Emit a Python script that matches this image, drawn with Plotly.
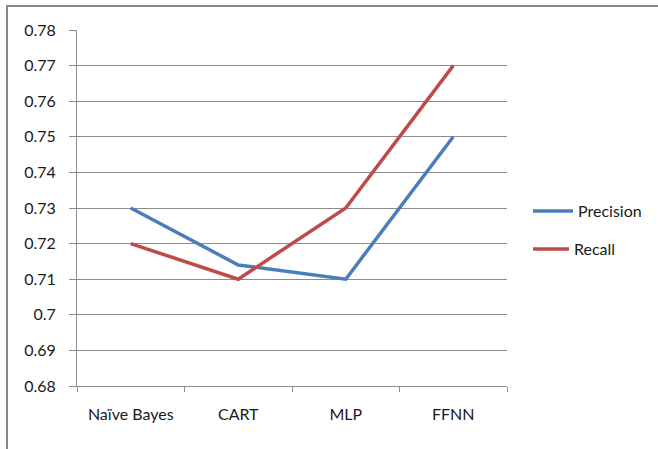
import plotly.graph_objects as go

# Classifier comparison: precision and recall per model
models = ["Naïve Bayes", "CART", "MLP", "FFNN"]
precision = [0.73, 0.714, 0.71, 0.75]
recall = [0.72, 0.71, 0.73, 0.77]
y_ticks = [0.68, 0.69, 0.70, 0.71, 0.72, 0.73, 0.74, 0.75, 0.76, 0.77, 0.78]
y_tick_text = ["0.68", "0.69", "0.7", "0.71", "0.72", "0.73", "0.74", "0.75", "0.76", "0.77", "0.78"]

BLUE = "#4A7EBB"
RED = "#BE4B48"
GRID = "#8C8C8C"
FONT = "Lato, Carlito, Calibri, sans-serif"

fig = go.Figure()
fig.add_trace(go.Scatter(x=models, y=precision, mode="lines", name="Precision",
                         line=dict(color=BLUE, width=3.5), legend="legend"))
fig.add_trace(go.Scatter(x=models, y=recall, mode="lines", name="Recall",
                         line=dict(color=RED, width=3.5), legend="legend2"))

W, H = 658, 449
L, R, T, B = 77, 151, 30, 63
pw, ph = W - L - R, H - T - B


def px_x(px):
    return (px - L) / pw


def px_y(py):
    return (H - B - py) / ph


fig.update_layout(
    width=W, height=H,
    margin=dict(l=L, r=R, t=T, b=B, autoexpand=False),
    paper_bgcolor="white", plot_bgcolor="white",
    font=dict(family=FONT, size=16, color="#1a1a1a"),
    showlegend=True,
    legend=dict(x=px_x(528), y=px_y(211), xanchor="left", yanchor="middle",
                itemwidth=40, bgcolor="rgba(0,0,0,0)", font=dict(size=16)),
    legend2=dict(x=px_x(528), y=px_y(249), xanchor="left", yanchor="middle",
                 itemwidth=36, bgcolor="rgba(0,0,0,0)", font=dict(size=16)),
    xaxis=dict(type="category", range=[-0.5, 3.5], tickson="boundaries",
               ticks="outside", ticklen=5, tickcolor=GRID, showgrid=False,
               showline=True, linecolor=GRID, linewidth=1,
               ticklabelstandoff=14, zeroline=False),
    yaxis=dict(range=[0.68, 0.78], tickvals=y_ticks, ticktext=y_tick_text,
               ticks="outside", ticklen=7, tickcolor=GRID,
               showgrid=True, gridcolor=GRID, gridwidth=1,
               showline=True, linecolor=GRID, linewidth=1,
               ticklabelstandoff=10, zeroline=False),
    shapes=[dict(type="path", xref="paper", yref="paper",
                 path=f"M {px_x(7)} {px_y(460)} L {px_x(7)} {px_y(6)} L {px_x(670)} {px_y(6)}",
                 line=dict(color="#878787", width=2))],
)

fig.write_html("out.html")
